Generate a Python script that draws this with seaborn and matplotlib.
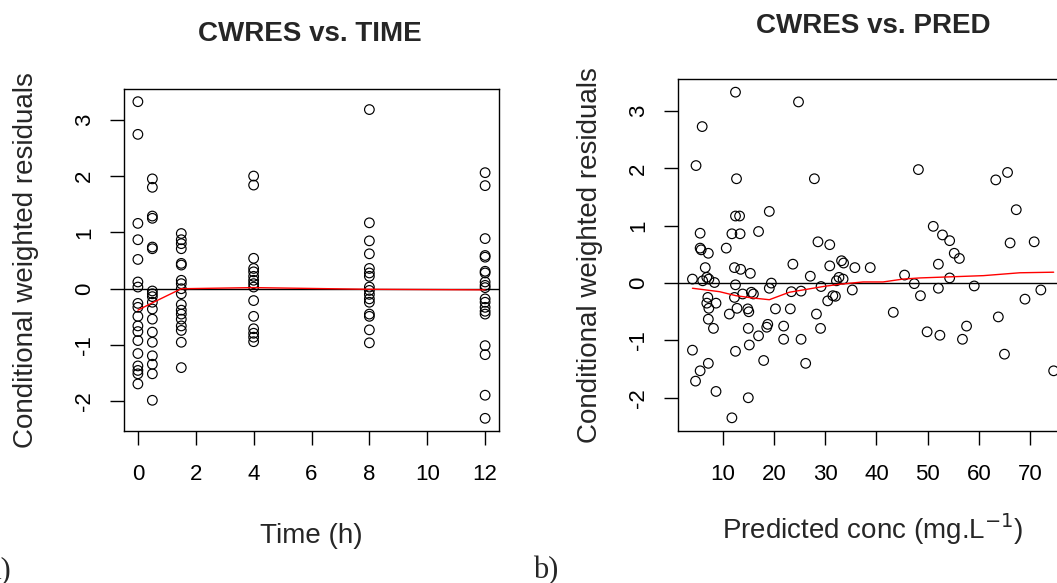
"""CWRES diagnostic plots: residuals vs time and vs predicted concentration"""
import matplotlib
matplotlib.use("Agg")
import matplotlib.pyplot as plt
import seaborn as sns
import pandas as pd

# CWRES at each sampling time (h)
cwres_t0 = [3.32, 2.74, 1.16, 0.87, 0.52, 0.12, 0.03, -0.26, -0.33, -0.49, -0.66,
            -0.76, -0.92, -1.15, -1.37, -1.45, -1.51, -1.69]
cwres_t05 = [1.95, 1.80, 1.29, 1.25, 0.74, 0.71, -0.04, -0.09, -0.14, -0.24, -0.36,
             -0.54, -0.77, -0.95, -1.19, -1.34, -1.51, -1.98]
cwres_t15 = [0.98, 0.87, 0.80, 0.71, 0.45, 0.42, 0.15, 0.09, 0.00, -0.09, -0.28,
             -0.38, -0.45, -0.54, -0.66, -0.74, -0.95, -1.40]
cwres_t4 = [2.00, 1.84, 0.54, 0.36, 0.30, 0.22, 0.15, 0.09, 0.03, -0.21, -0.49,
            -0.71, -0.79, -0.86, -0.94]
cwres_t8 = [3.18, 1.17, 0.85, 0.62, 0.36, 0.28, 0.22, 0.03, -0.03, -0.10, -0.18,
            -0.24, -0.45, -0.49, -0.73, -0.96]
cwres_t12 = [2.06, 1.83, 0.89, 0.59, 0.56, 0.31, 0.28, 0.12, 0.06, 0.02, -0.18,
             -0.24, -0.33, -0.40, -0.45, -1.01, -1.17, -1.89, -2.30]
sample_times = [0, 0.5, 1.5, 4, 8, 12]

# smoother through CWRES vs time
smooth_time = [0, 0.5, 1.5, 4, 8, 12]
smooth_time_cwres = [-0.38, -0.25, 0.0, 0.02, -0.01, -0.02]

# CWRES vs population prediction (mg/L)
pred_conc = [12.5, 6.0, 4.8, 12.7, 19.1, 12.5, 13.3, 5.6, 11.8, 13.4, 17.0, 5.6, 5.8,
             7.2, 10.7, 6.6, 12.3, 13.5, 15.4, 4.1, 6.1, 6.9, 7.3, 8.4, 12.5, 19.5,
             19.1, 23.7, 23.4, 7.1, 6.9, 7.3, 8.7, 12.3, 13.9, 15.6, 16.0, 12.8, 11.3,
             14.9, 15.1, 20.3, 23.2, 7.2, 8.2, 15.0, 18.8, 18.6, 17.0, 15.2, 21.9,
             21.9, 25.3, 4.1, 12.5, 18.0, 7.2, 5.6, 4.7, 8.7, 15.0, 11.8, 24.8,
             27.9, 48.2, 28.6, 30.9, 27.1, 30.9, 33.2, 33.6, 35.8, 38.8, 32.2, 32.7,
             33.5, 29.2, 35.3, 25.3, 31.5, 32.0, 30.5, 28.3, 29.1, 26.2, 43.3, 45.5,
             47.4, 48.6,
             63.3, 65.6, 67.3, 51.1, 52.9, 54.3, 66.1, 70.8, 55.2, 56.2, 52.1, 54.3,
             52.1, 59.1, 69.0, 72.1, 63.8, 49.9, 52.4, 57.6, 56.8, 65.0, 74.6]
cwres_pred = [3.33, 2.73, 2.05, 1.82, 1.25, 1.17, 1.17, 0.87, 0.86, 0.86, 0.90, 0.61,
              0.58, 0.52, 0.61, 0.27, 0.27, 0.24, 0.17, 0.07, 0.04, 0.10, 0.07, 0.01,
              -0.03, 0.00, -0.09, 0.33, -0.15, -0.25, -0.35, -0.44, -0.35, -0.25,
              -0.19, -0.16, -0.19, -0.44, -0.54, -0.45, -0.50, -0.45, -0.45, -0.63,
              -0.79, -0.79, -0.72, -0.77, -0.92, -1.08, -0.75, -0.98, -0.98, -1.17,
              -1.19, -1.35, -1.40, -1.53, -1.71, -1.89, -2.00, -2.35, 3.16,
              1.82, 1.98, 0.72, 0.67, 0.12, 0.30, 0.39, 0.35, 0.27, 0.27, 0.04, 0.10,
              0.07, -0.06, -0.12, -0.14, -0.22, -0.23, -0.31, -0.54, -0.79, -1.40,
              -0.51, 0.14, -0.01, -0.22,
              1.80, 1.93, 1.28, 0.99, 0.84, 0.74, 0.70, 0.72, 0.52, 0.43, 0.33, 0.09,
              -0.09, -0.05, -0.28, -0.12, -0.59, -0.85, -0.91, -0.75, -0.98, -1.24,
              -1.53]

# smoother through CWRES vs PRED
smooth_pred = [4.1, 9.4, 12.6, 15.9, 19.1, 23.0, 29.6, 32.8, 37.4, 41.3, 45.2, 48.5,
               60.9, 68.0, 74.6]
smooth_pred_cwres = [-0.09, -0.15, -0.22, -0.26, -0.29, -0.16, -0.06, -0.02, 0.02,
                     0.02, 0.07, 0.09, 0.13, 0.18, 0.19]

W, H = 1057, 583


def fx(px):
    return px / W


def fy(py):
    return 1 - py / H


sns.set_style("ticks")
plt.rcParams["font.family"] = ["Liberation Sans", "DejaVu Sans"]
plt.rcParams["axes.unicode_minus"] = False

time_cols = [cwres_t0, cwres_t05, cwres_t15, cwres_t4, cwres_t8, cwres_t12]
df_time = pd.DataFrame({
    "time": [t for t, col in zip(sample_times, time_cols) for _ in col],
    "cwres": [v for col in time_cols for v in col],
})
df_pred = pd.DataFrame({"pred": pred_conc, "cwres": cwres_pred})

fig = plt.figure(figsize=(W / 100, H / 100), dpi=100)
ax1 = fig.add_axes([fx(124), fy(431), 375 / W, 342 / H])
ax2 = fig.add_axes([fx(678), fy(431), 390 / W, 352 / H])

point_kw = dict(marker="o", s=48, facecolors="none", edgecolor="black", linewidth=0.85)

# left: vs time
sns.scatterplot(data=df_time, x="time", y="cwres", ax=ax1, **point_kw)
ax1.axhline(0, color="black", lw=1.0)
sns.lineplot(x=smooth_time, y=smooth_time_cwres, ax=ax1, color="red", lw=1.0,
             estimator=None, sort=False)
ax1.set_xlim(-0.48, 12.48)
ax1.set_ylim(-2.525, 3.545)
ax1.set_xticks(range(0, 13, 2))
ax1.set_yticks(range(-2, 4))

# right: vs PRED
sns.scatterplot(data=df_pred, x="pred", y="cwres", ax=ax2, **point_kw)
ax2.axhline(0, color="black", lw=1.0)
sns.lineplot(x=smooth_pred, y=smooth_pred_cwres, ax=ax2, color="red", lw=1.0,
             estimator=None, sort=False)
ax2.set_xlim(1.28, 77.4)
ax2.set_ylim(-2.58, 3.56)
ax2.set_xticks(range(10, 71, 10))
ax2.set_yticks(range(-2, 4))

for ax in (ax1, ax2):
    ax.set_xlabel("")
    ax.set_ylabel("")
    for sp in ax.spines.values():
        sp.set_visible(True)
        sp.set_color("black")
        sp.set_linewidth(1.0)
    ax.tick_params(axis="both", direction="out", length=10, width=1.0,
                   labelsize=16, colors="black")
    ax.tick_params(axis="x", pad=14)
    ax.tick_params(axis="y", pad=11)
    plt.setp(ax.get_yticklabels(), rotation=90, va="center")

# titles and axis labels
fig.text(fx(310), fy(40.6), "CWRES vs. TIME", ha="center", va="baseline",
         fontsize=20, fontweight="bold")
fig.text(fx(873), fy(32.6), "CWRES vs. PRED", ha="center", va="baseline",
         fontsize=20, fontweight="bold")
fig.text(fx(311), fy(543), "Time (h)", ha="center", va="baseline", fontsize=20)
fig.text(fx(873), fy(539), r"Predicted conc (mg.L$^{-1}$)", ha="center",
         va="baseline", fontsize=20)
fig.text(fx(33), fy(260), "Conditional weighted residuals", rotation=90,
         rotation_mode="anchor", ha="center", va="baseline", fontsize=20)
fig.text(fx(597), fy(255), "Conditional weighted residuals", rotation=90,
         rotation_mode="anchor", ha="center", va="baseline", fontsize=20)

# panel letters
fig.text(fx(-12), fy(578), "a)", ha="left", va="baseline", fontsize=22,
         family=["Liberation Serif"])
fig.text(fx(533), fy(578), "b)", ha="left", va="baseline", fontsize=22,
         family=["Liberation Serif"])

fig.savefig("out.png", dpi=100)
plt.close(fig)
